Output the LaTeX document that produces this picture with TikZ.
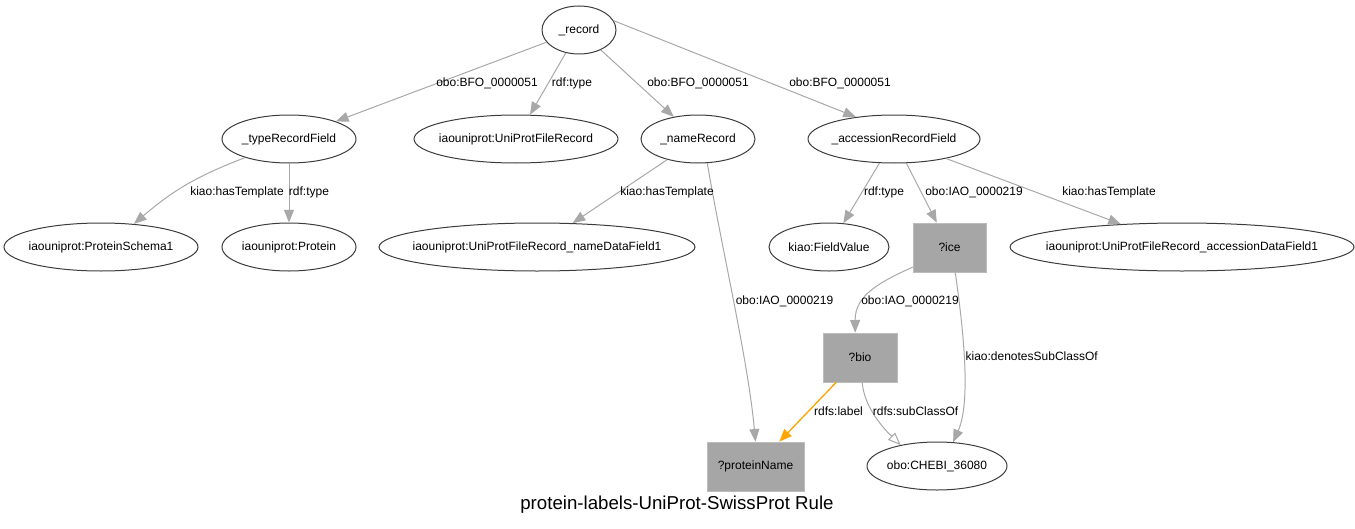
\documentclass[tikz,border=0pt]{standalone}
\usepackage{fontspec}
\setmainfont{Liberation Sans}
\usetikzlibrary{arrows.meta,shapes.geometric}
\definecolor{edgegray}{HTML}{A8A8A8}
\definecolor{boxgray}{HTML}{A6A6A6}
\definecolor{rimgray}{HTML}{3C3C3C}
\definecolor{labelorange}{HTML}{FFA500}

\begin{document}
\begin{tikzpicture}[x=0.75pt, y=-0.75pt,
  term/.style={ellipse, draw=rimgray, line width=0.75pt, minimum height=36pt, inner ysep=0pt, inner xsep=-25pt, font=\fontsize{9}{11}\selectfont},
  var/.style={rectangle, fill=boxgray, draw=boxgray!75, line width=0.5pt, minimum height=36.75pt, inner sep=0pt, font=\fontsize{9}{11}\selectfont},
  rel/.style={draw=edgegray, line width=0.75pt, -{Triangle[length=9.5pt,width=7.5pt]}},
  sub/.style={draw=edgegray, line width=0.75pt, -{Triangle[open,length=9.5pt,width=7.5pt,fill=white]}},
  lbl/.style={font=\fontsize{9}{11}\selectfont, inner sep=1pt}]
\useasboundingbox (0, 0) rectangle (1355, 528);
% nodes
\node[term, minimum width=55.5pt] (record) at (579, 30) {\_record};
\node[term, minimum width=100.5pt] (typeRF) at (289, 139) {\_typeRecordField};
\node[term, minimum width=153pt] (fileRec) at (516, 139) {iaouniprot:UniProtFileRecord};
\node[term, minimum width=85.5pt] (nameRec) at (698, 139) {\_nameRecord};
\node[term, minimum width=129pt] (accRF) at (894, 139) {\_accessionRecordField};
\node[term, minimum width=145.5pt] (schema) at (101, 247) {iaouniprot:ProteinSchema1};
\node[term, minimum width=100.5pt] (protein) at (289, 247) {iaouniprot:Protein};
\node[term, minimum width=237pt] (nameDF) at (537, 247) {iaouniprot:UniProtFileRecord\_nameDataField1};
\node[term, minimum width=90pt] (fieldVal) at (829, 247) {kiao:FieldValue};
\node[var, minimum width=54.75pt] (ice) at (949.5, 247.5) {?ice};
\node[term, minimum width=258pt] (accDF) at (1182, 247) {iaouniprot:UniProtFileRecord\_accessionDataField1};
\node[var, minimum width=55.5pt] (bio) at (860, 357.5) {?bio};
\node[var, minimum width=72.75pt] (protName) at (755.5, 466.5) {?proteinName};
\node[term, minimum width=105pt] (chebi) at (937, 466) {obo:CHEBI\_36080};
% edges
\draw[rel] (record) -- (typeRF);
\draw[rel] (record) -- (fileRec);
\draw[rel] (record) -- (nameRec);
\draw[rel] (record.15) -- (accRF.150);
\draw[rel] (typeRF.203) to[bend right=10] (schema.35);
\draw[rel] (typeRF) -- (protein);
\draw[rel] (nameRec) -- (nameDF);
\draw[rel] (nameRec.-69) .. controls (722, 250) and (748, 360) .. (protName.north);
\draw[rel] (accRF) -- (fieldVal);
\draw[rel] (accRF) -- (ice);
\draw[rel] (accRF) -- (accDF);
\draw[rel] (ice.208) .. controls (880, 282) and (855, 295) .. (bio.101);
\draw[rel] (ice.-77) .. controls (962, 320) and (972, 400) .. (chebi.56);
\draw[rel, draw=labelorange, line width=1pt, -{Triangle[length=9.5pt,width=7.5pt,fill=labelorange]}] (bio) -- (protName);
\draw[sub] (bio.-85) .. controls (864, 405) and (880, 425) .. (chebi.150);
% edge labels
\node[lbl] (l1) at (487, 83) {obo:BFO\_0000051};
\node[lbl] (l2) at (572, 83) {rdf:type};
\node[lbl] (l3) at (698, 83) {obo:BFO\_0000051};
\node[lbl] (l4) at (840, 83) {obo:BFO\_0000051};
\node[lbl] (l5) at (237, 192) {kiao:hasTemplate};
\node[lbl] (l6) at (309, 192) {rdf:type};
\node[lbl] (l7) at (667, 192) {kiao:hasTemplate};
\node[lbl] (l8) at (884, 192) {rdf:type};
\node[lbl] (l9) at (974, 192) {obo:IAO\_0000219};
\node[lbl] (l10) at (1109, 192) {kiao:hasTemplate};
\node[lbl] (l11) at (784.5, 301) {obo:IAO\_0000219};
\node[lbl] (l12) at (910, 301) {obo:IAO\_0000219};
\node[lbl, anchor=west] (l13) at (964, 356) {kiao:denotesSubClassOf};
\node[lbl] (l14) at (838.5, 411) {rdfs:label};
\node[lbl] (l15) at (915.5, 411) {rdfs:subClassOf};
% title
\node[font=\fontsize{14}{17}\selectfont] (title) at (677, 505) {protein-labels-UniProt-SwissProt Rule};
\end{tikzpicture}
\end{document}
